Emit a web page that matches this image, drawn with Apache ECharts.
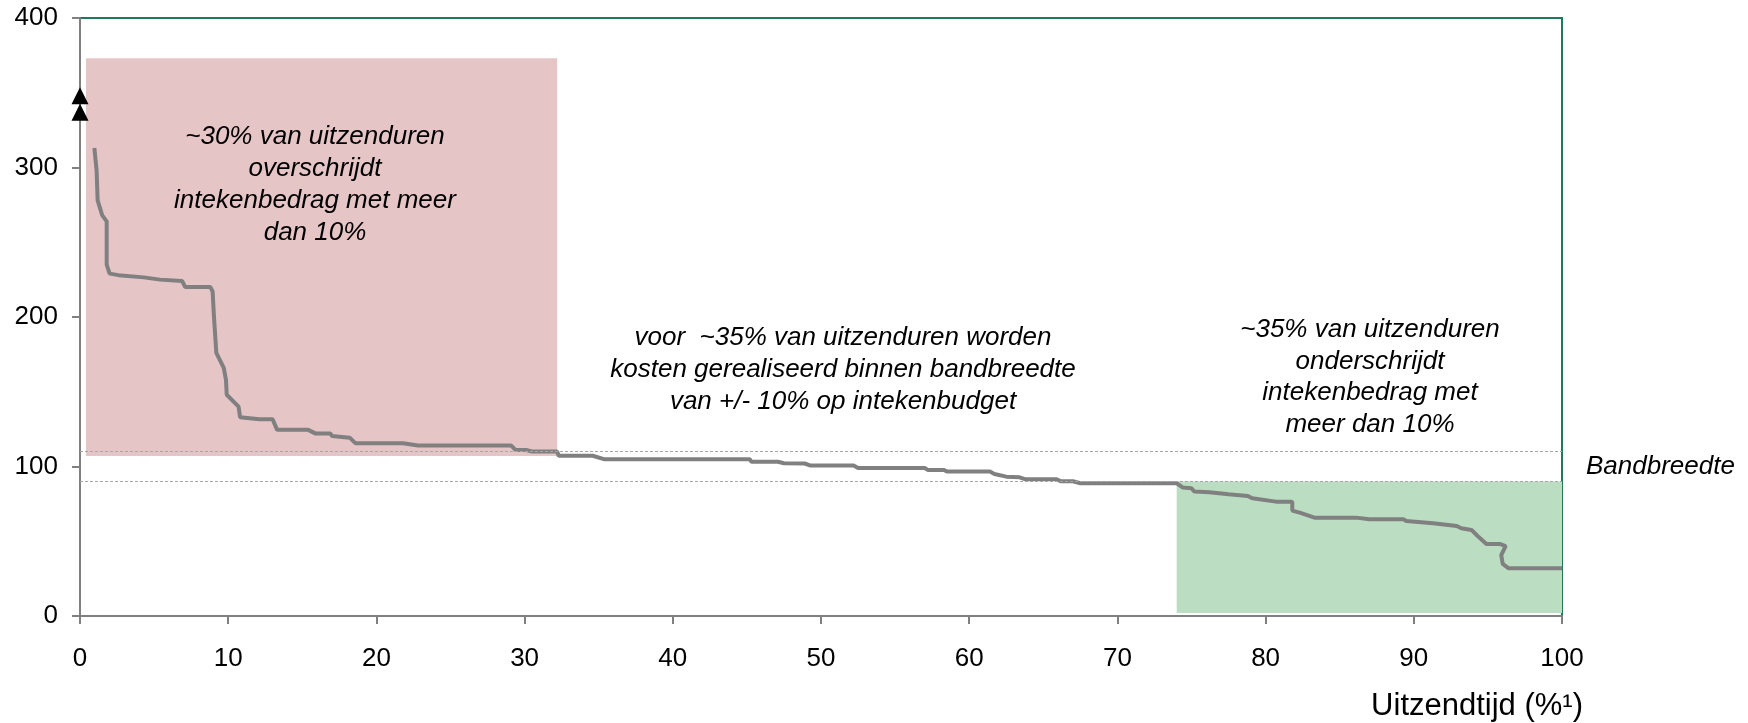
<!DOCTYPE html>
<html>
<head>
<meta charset="utf-8">
<script src="https://cdn.jsdelivr.net/npm/echarts@6/dist/echarts.min.js"></script>
<style>
  html, body { margin: 0; padding: 0; background: #ffffff; }
  #chart { width: 1748px; height: 723px; }
</style>
</head>
<body>
<div id="chart"></div>
<script>
// Cost ratio (index, 100 = intekenbudget) against cumulative airtime share (%)
const curvePoints = [
  [0.97, 313], [1.12, 298], [1.19, 278], [1.5, 268], [1.8, 264], [1.8, 235],
  [2.0, 229], [2.6, 228], [4.3, 226.5], [5.4, 225], [6.9, 224], [7.1, 220],
  [8.8, 220], [8.95, 217], [9.04, 200], [9.2, 176], [9.7, 166], [9.85, 158],
  [9.9, 148], [10.7, 140], [10.8, 133], [12.1, 131.6], [13.0, 131.6],
  [13.3, 124.5], [15.4, 124.5], [15.9, 122], [16.9, 122], [17.0, 120.4],
  [18.2, 119.3], [18.6, 115.5], [21.8, 115.5], [22.8, 114], [29.1, 114],
  [29.4, 111], [30.1, 111], [30.5, 110], [32.2, 110], [32.3, 107.2],
  [34.6, 107.2], [35.4, 104.8], [45.2, 104.8], [45.3, 103.2], [47.1, 103.2],
  [47.5, 102.2], [48.9, 102], [49.3, 100.6], [52.2, 100.6], [52.5, 99],
  [57.0, 99], [57.2, 97.7], [58.3, 97.7], [58.5, 96.6], [61.4, 96.6],
  [61.7, 95], [62.5, 93.2], [63.4, 92.8], [63.8, 91.4], [65.9, 91.4],
  [66.2, 90.1], [67.0, 90.1], [67.5, 88.8], [74.0, 88.8], [74.4, 86],
  [75.0, 85.4], [75.2, 83.2], [76.2, 82.8], [77.5, 81.4], [77.6, 80.3],
  [78.8, 80.3], [79.1, 78.7], [80.7, 76.5], [81.8, 76.5], [81.8, 70.5],
  [82.3, 69.1], [83.3, 65.8], [86.1, 65.8], [87.0, 64.7], [89.3, 64.7],
  [89.5, 63.5], [91.3, 62], [92.9, 60.2], [93.2, 58.7], [93.9, 57.5],
  [94.4, 52.6], [94.9, 48.2], [95.8, 48.2], [96.2, 46.8], [95.9, 40.8],
  [96.0, 34.8], [96.4, 31.9], [100, 31.9]
];

// Off-scale outliers, shown as arrows on the y axis
const arrowValues = [348, 337];

// Bandwidth limits (+/- 10% around 100)
const bandLimits = [110, 90];

// Shaded zones: [x0, y0, x1, y1]
const overZone = [0.4, 107, 32.2, 373];
const underZone = [74, 2, 100, 90];

// Axis ranges and ticks
const xTicks = [0, 10, 20, 30, 40, 50, 60, 70, 80, 90, 100];
const yTicks = [0, 100, 200, 300, 400];

const overText = ['~30% van uitzenduren', 'overschrijdt', 'intekenbedrag met meer', 'dan 10%'];
const bandText = ['voor  ~35% van uitzenduren worden', 'kosten gerealiseerd binnen bandbreedte', 'van +/- 10% op intekenbudget'];
const underText = ['~35% van uitzenduren', 'onderschrijdt', 'intekenbedrag met', 'meer dan 10%'];
const bandLabel = 'Bandbreedte';
const xTitle = 'Uitzendtijd (%\u00B9)';

const FONT = '"Liberation Sans", Arial, sans-serif';
const chart = echarts.init(document.getElementById('chart'), null, { renderer: 'canvas' });

// Centered multi-line italic note; (x, y) = center of the top edge
function note(lines, x, y, lh) {
  return {
    type: 'text', x: x, y: y, z: 10,
    style: {
      text: lines.join('\n'), fill: '#000', font: 'italic 26px ' + FONT,
      align: 'center', verticalAlign: 'top',
      textAlign: 'center', textVerticalAlign: 'top', lineHeight: lh
    }
  };
}

chart.setOption({
  animation: false,
  backgroundColor: '#ffffff',
  grid: {
    left: 80, right: 186, top: 18, bottom: 107,
    show: true, borderColor: '#1f7a5a', borderWidth: 2, backgroundColor: 'transparent'
  },
  xAxis: {
    type: 'value', min: xTicks[0], max: xTicks[xTicks.length - 1], interval: 10,
    axisLine: { show: true, lineStyle: { color: '#808080', width: 2 } },
    axisTick: { show: true, length: 8, lineStyle: { color: '#808080', width: 2 } },
    axisLabel: { color: '#000', fontSize: 26, fontFamily: FONT, margin: 30 },
    splitLine: { show: false }
  },
  yAxis: {
    type: 'value', min: yTicks[0], max: yTicks[yTicks.length - 1], interval: 100,
    axisLine: { show: true, lineStyle: { color: '#808080', width: 2 } },
    axisTick: { show: true, length: 8, lineStyle: { color: '#808080', width: 2 } },
    axisLabel: { color: '#000', fontSize: 26, fontFamily: FONT, margin: 22 },
    splitLine: { show: false }
  },
  series: [
    {
      type: 'line', data: [], z: 1, silent: true,
      markArea: {
        silent: true,
        data: [
          [{ coord: [overZone[0], overZone[1]], itemStyle: { color: '#e6c5c7' } }, { coord: [overZone[2], overZone[3]] }],
          [{ coord: [underZone[0], underZone[1]], itemStyle: { color: '#bbdec3' } }, { coord: [underZone[2], underZone[3]] }]
        ]
      }
    },
    {
      type: 'line', data: curvePoints, z: 3, showSymbol: false, symbol: 'none',
      lineStyle: { color: '#808080', width: 4 },
      markLine: {
        silent: true, symbol: 'none', label: { show: false },
        lineStyle: { color: '#a6a6a6', width: 1, type: [3, 2] },
        data: bandLimits.map(v => ({ yAxis: v }))
      }
    },
    {
      type: 'scatter', clip: false, z: 5, symbol: 'triangle', symbolSize: [17, 17],
      itemStyle: { color: '#000', opacity: 1 },
      data: arrowValues.map(v => [0, v])
    }
  ],
  graphic: [
    note(overText, 315, 121, 32),
    note(bandText, 843, 322, 32),
    note(underText, 1370, 314, 31.7),
    {
      type: 'text', x: 1586, y: 454, z: 10,
      style: { text: bandLabel, fill: '#000', font: 'italic 26px ' + FONT }
    },
    {
      type: 'text', x: 1583, y: 691, z: 10,
      style: {
        text: xTitle, fill: '#000', font: '31px ' + FONT,
        align: 'right', textAlign: 'right'
      }
    }
  ]
});
</script>
</body>
</html>
